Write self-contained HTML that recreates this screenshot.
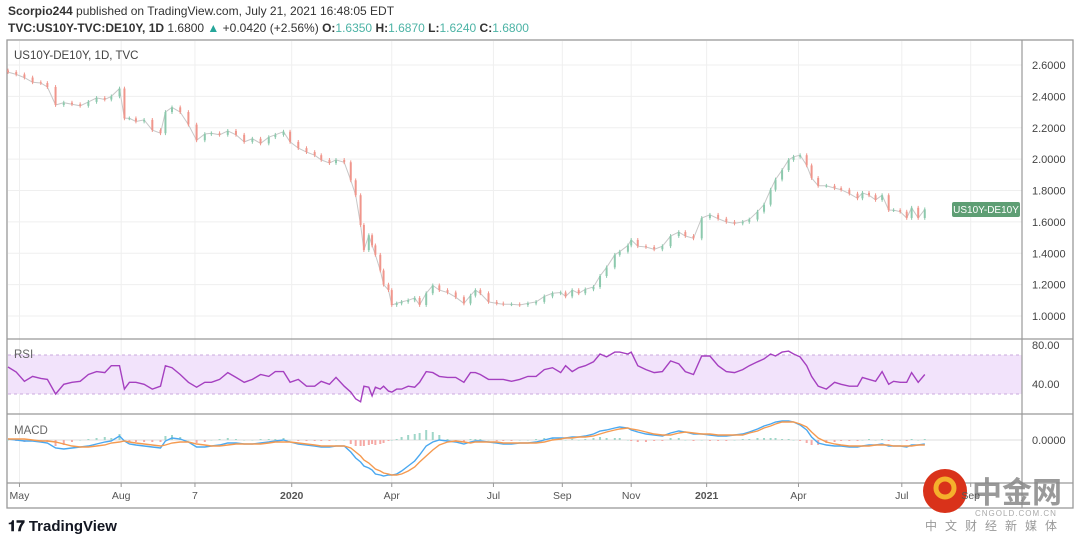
<!DOCTYPE html>
<html><head><meta charset="utf-8"><style>
body{margin:0;width:1080px;height:542px;background:#fff;overflow:hidden;font-family:"Liberation Sans","Noto Sans CJK SC",sans-serif;}
svg{position:absolute;left:0;top:0}
</style></head><body>
<svg id="c" width="1080" height="542">
<text x="8" y="15" font-size="12" fill="#333"><tspan font-weight="bold">Scorpio244</tspan> published on TradingView.com, July 21, 2021 16:48:05 EDT</text>
<text x="8" y="32" font-size="12" fill="#333"><tspan font-weight="bold">TVC:US10Y-TVC:DE10Y, 1D</tspan> 1.6800 <tspan fill="#26a69a">▲</tspan> +0.0420 (+2.56%) <tspan font-weight="bold">O:</tspan><tspan fill="#4cb3a5">1.6350</tspan> <tspan font-weight="bold">H:</tspan><tspan fill="#4cb3a5">1.6870</tspan> <tspan font-weight="bold">L:</tspan><tspan fill="#4cb3a5">1.6240</tspan> <tspan font-weight="bold">C:</tspan><tspan fill="#4cb3a5">1.6800</tspan></text>
<rect x="7" y="40" width="1066" height="468" fill="none" stroke="#999" stroke-width="1.3"/>
<g id="grid"></g>
<rect x="8" y="355" width="1014" height="39" fill="#f2e3fb"/>
<line x1="8" x2="1022" y1="355" y2="355" stroke="#c9a8dc" stroke-dasharray="3,3"/>
<line x1="8" x2="1022" y1="394" y2="394" stroke="#c9a8dc" stroke-dasharray="3,3"/>
<line x1="8" x2="1022" y1="440" y2="440" stroke="#ddd"/>
<g id="marks"></g>
<line x1="7" x2="1073" y1="339" y2="339" stroke="#999" stroke-width="1.2"/>
<line x1="7" x2="1073" y1="414" y2="414" stroke="#999" stroke-width="1.2"/>
<line x1="7" x2="1073" y1="483" y2="483" stroke="#999" stroke-width="1.2"/>
<line x1="1022" x2="1022" y1="40" y2="508" stroke="#999" stroke-width="1.2"/>
<text x="14" y="59" font-size="11.5" fill="#444">US10Y-DE10Y, 1D, TVC</text>
<text x="14" y="358" font-size="11.5" fill="#666">RSI</text>
<text x="14" y="434" font-size="11.5" fill="#666">MACD</text>
<rect x="952" y="202" width="68" height="15" rx="2" fill="#5e9e74"/>
<text x="986" y="213" font-size="10" fill="#fff" text-anchor="middle">US10Y-DE10Y</text>
<text x="1032" y="349" font-size="11" fill="#444">80.00</text>
<text x="1032" y="388" font-size="11" fill="#444">40.00</text>
<text x="1032" y="444" font-size="11" fill="#444">0.0000</text>
<g>
<text x="8" y="531" font-size="15" font-weight="bold" fill="#131722">𝟏𝟕 TradingView</text></g>
<g>
<circle cx="945" cy="491" r="22" fill="#d9321a"/>
<circle cx="945" cy="488" r="9" fill="none" stroke="#f5b02c" stroke-width="5"/>
<text x="972" y="503" font-size="30" font-weight="bold" fill="#888" opacity="0.85">中金网</text>
<text x="975" y="516" font-size="8" fill="#aaa" letter-spacing="1">CNGOLD.COM.CN</text>
<text x="925" y="530" font-size="12" fill="#999" letter-spacing="8">中文财经新媒体</text></g>
</svg>
<script>
const days=[0,5,10,15,20,24,29,34,39,44,49,54,59,63,68,71,74,78,83,88,93,96,100,105,110,115,120,124,129,134,139,144,149,154,159,163,168,172,177,182,187,191,196,200,205,209,212,215,217,220,222,224,227,229,232,234,237,240,244,248,251,255,259,263,268,273,278,282,285,288,293,298,302,307,312,317,322,327,332,337,340,344,348,352,357,361,365,370,373,378,380,384,389,394,399,404,409,413,418,423,428,433,438,443,448,452,457,461,465,468,472,476,479,483,487,490,494,499,504,508,513,518,521,525,529,533,537,540,544,548,551,555,559];
const closes=[2.555,2.54,2.52,2.49,2.485,2.46,2.345,2.36,2.35,2.34,2.365,2.39,2.38,2.40,2.45,2.26,2.26,2.24,2.25,2.185,2.165,2.30,2.33,2.30,2.22,2.12,2.16,2.165,2.155,2.18,2.155,2.11,2.13,2.10,2.14,2.155,2.175,2.11,2.07,2.045,2.025,1.995,1.975,1.995,1.98,1.865,1.77,1.58,1.42,1.515,1.45,1.39,1.29,1.2,1.165,1.07,1.08,1.09,1.10,1.115,1.07,1.145,1.195,1.165,1.15,1.12,1.08,1.13,1.165,1.145,1.09,1.08,1.075,1.075,1.07,1.08,1.09,1.125,1.145,1.15,1.125,1.165,1.145,1.17,1.185,1.255,1.31,1.39,1.41,1.45,1.485,1.445,1.44,1.425,1.445,1.51,1.535,1.51,1.495,1.625,1.645,1.62,1.6,1.59,1.6,1.615,1.665,1.71,1.805,1.87,1.93,1.995,2.015,2.025,1.96,1.88,1.83,1.83,1.815,1.805,1.78,1.75,1.785,1.77,1.74,1.77,1.675,1.675,1.665,1.625,1.69,1.625,1.68];
const rsi=[57.7,52.6,43,48,46,45,30,40,42,43,50,53,52,59,59,35,42,42,40,35,38,59,57,50,42,37,42,42,45,52,47,42,45,50,48,53,53,42,45,38,38,43,40,47,38,32,25,22,38,37,28,37,35,38,33,32,35,35,38,37,42,53,52,48,47,47,42,52,52,50,45,45,45,43,45,48,48,55,57,52,59,53,57,59,63,71,68,73,73,71,73,59,55,52,53,64,61,53,50,69,69,59,53,52,55,59,63,66,71,69,73,74,71,68,59,48,38,35,42,40,38,38,47,45,43,53,40,43,42,42,52,42,50];
const macd=[0.01,0,-0.01,-0.01,-0.02,-0.03,-0.08,-0.09,-0.08,-0.07,-0.06,-0.04,-0.02,-0.01,0.04,-0.01,-0.04,-0.05,-0.06,-0.07,-0.08,-0.01,0.02,0.01,-0.02,-0.07,-0.07,-0.06,-0.05,-0.03,-0.03,-0.04,-0.04,-0.03,-0.02,-0.01,0,-0.02,-0.04,-0.05,-0.06,-0.07,-0.07,-0.06,-0.06,-0.12,-0.18,-0.22,-0.26,-0.28,-0.30,-0.34,-0.35,-0.36,-0.35,-0.35,-0.34,-0.31,-0.26,-0.21,-0.15,-0.06,-0.02,0,-0.01,-0.02,-0.04,-0.02,-0.01,-0.01,-0.02,-0.03,-0.04,-0.04,-0.03,-0.03,-0.02,0,0.02,0.02,0.02,0.03,0.03,0.04,0.06,0.09,0.10,0.12,0.13,0.12,0.10,0.08,0.06,0.05,0.04,0.07,0.09,0.08,0.06,0.06,0.05,0.04,0.04,0.05,0.06,0.08,0.11,0.14,0.16,0.18,0.19,0.19,0.18,0.15,0.10,0.03,-0.03,-0.05,-0.06,-0.06,-0.07,-0.07,-0.06,-0.05,-0.05,-0.04,-0.06,-0.06,-0.06,-0.07,-0.05,-0.05,-0.04];
const signal=[0.01,0.01,0.01,0,-0.01,-0.01,-0.02,-0.04,-0.06,-0.07,-0.07,-0.06,-0.05,-0.03,-0.02,-0.01,-0.02,-0.03,-0.04,-0.05,-0.06,-0.05,-0.03,-0.02,-0.02,-0.04,-0.05,-0.06,-0.06,-0.05,-0.04,-0.04,-0.04,-0.04,-0.03,-0.02,-0.02,-0.02,-0.03,-0.04,-0.05,-0.06,-0.06,-0.06,-0.06,-0.08,-0.12,-0.16,-0.2,-0.23,-0.26,-0.29,-0.31,-0.33,-0.34,-0.35,-0.35,-0.34,-0.31,-0.27,-0.22,-0.16,-0.10,-0.05,-0.02,-0.01,-0.02,-0.03,-0.02,-0.02,-0.02,-0.02,-0.03,-0.03,-0.03,-0.03,-0.03,-0.02,0,0.01,0.02,0.02,0.03,0.03,0.04,0.06,0.08,0.10,0.11,0.12,0.11,0.10,0.08,0.06,0.05,0.05,0.07,0.08,0.07,0.06,0.06,0.05,0.05,0.05,0.05,0.07,0.09,0.12,0.14,0.16,0.18,0.18,0.18,0.16,0.13,0.08,0.02,-0.02,-0.04,-0.05,-0.06,-0.06,-0.06,-0.06,-0.05,-0.05,-0.05,-0.06,-0.06,-0.06,-0.06,-0.05,-0.05];
const priceTicks=["2.6000","2.4000","2.2000","2.0000","1.8000","1.6000","1.4000","1.2000","1.0000"];
const timeLabels=["May","Aug","7","2020","Apr","Jul","Sep","Nov","2021","Apr","Jul","Sep"];
const timeDays=[7,69,114,173,234,296,338,380,426,482,545,587];

const NS="http://www.w3.org/2000/svg";
const X=d=>8+d*1.64;
const PY=p=>65+(2.6-p)/1.6*251;
const RY=v=>355+(70-v)*0.975;
const MY=v=>440-v*100;
function mk(t,a,parent){const e=document.createElementNS(NS,t);for(const k in a)e.setAttribute(k,a[k]);parent.appendChild(e);return e;}
const grid=document.getElementById('grid'),marks=document.getElementById('marks'),svg=document.getElementById('c');
priceTicks.forEach(t=>{const y=PY(parseFloat(t));
 const l=mk('line',{x1:8,x2:1022,y1:y,y2:y,stroke:'#efefef'},grid);
 
 
 const tx=mk('text',{x:1032,y:y+4,'font-size':11,fill:'#444'},svg);tx.textContent=t;
 
 
});
timeLabels.forEach((t,i)=>{const x=X(timeDays[i]);
 const l=mk('line',{x1:x,x2:x,y1:41,y2:483,stroke:'#efefef'},grid);
 
 
 mk('line',{x1:x,x2:x,y1:483,y2:487,stroke:'#999'},svg);
 const tx=mk('text',{x:x,y:499,'font-size':10.5,fill:'#555','text-anchor':'middle','font-weight':(t.length==4&&!isNaN(t))?'bold':'normal'},svg);tx.textContent=t;
 
 
});
// connecting path (price trace)
{const d=closes.map((v,i)=>(i?'L':'M')+X(days[i]).toFixed(1)+','+PY(v).toFixed(1)).join('');
 const p=mk('path',{d:d,fill:'none',stroke:'#c7c7c7','stroke-width':1},marks);
 
 }
// candles
for(let i=0;i<closes.length;i++){
 const o=i?closes[i-1]:closes[0]+0.01,c=closes[i],up=c>=o;
 const col=up?'#8cc9ad':'#f0968c';
 const x=X(days[i]);
 const w=mk('line',{x1:x,x2:x,y1:PY(Math.max(o,c)+0.012),y2:PY(Math.min(o,c)-0.012),stroke:col,'stroke-width':1},marks);
 
 
 const b=mk('rect',{x:x-1,y:PY(Math.max(o,c)),width:2,height:Math.max(1,Math.abs(PY(o)-PY(c))),fill:col},marks);
 
 
}
// histogram
for(let i=0;i<macd.length;i++){
 const h=macd[i]-signal[i],x=X(days[i]);
 const r=mk('rect',{x:x-1,y:Math.min(MY(0),MY(h)),width:2,height:Math.max(0.5,Math.abs(MY(h)-MY(0))),fill:h>=0?'#9fd6c8':'#f5a9a5'},marks);
 
 
}
function line(arr,fy,col,name){const d=arr.map((v,i)=>(i?'L':'M')+X(days[i]).toFixed(1)+','+fy(v).toFixed(1)).join('');
 const p=mk('path',{d:d,fill:'none',stroke:col,'stroke-width':1.4},marks);
 
 }
line(rsi,RY,'#a540c0','rsi-line');
line(macd,MY,'#4aa8f0','macd-line');
line(signal,MY,'#f59a50','signal-line');
</script>
</body></html>
